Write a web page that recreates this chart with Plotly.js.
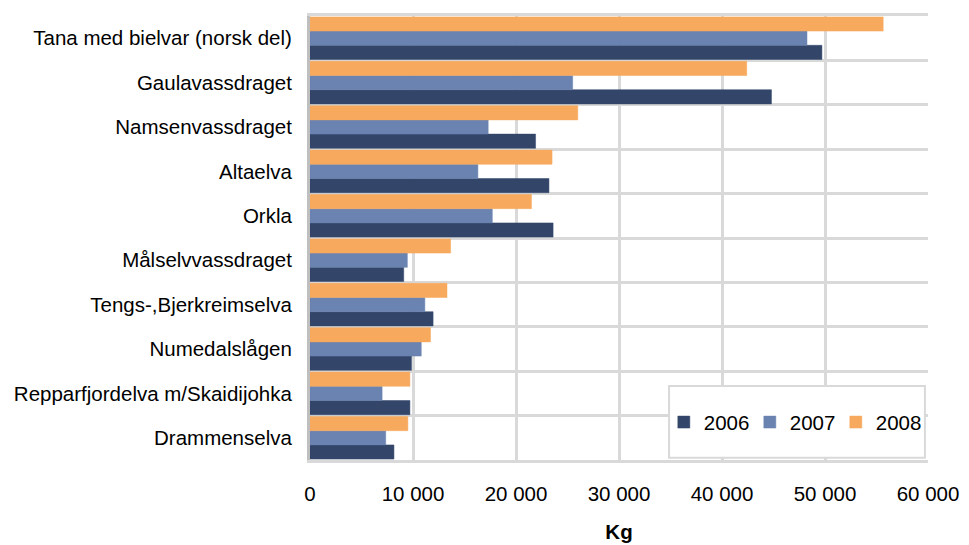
<!DOCTYPE html>
<html>
<head>
<meta charset="utf-8">
<script src="https://cdn.plot.ly/plotly-3.0.1.min.js"></script>
<style>html,body{margin:0;padding:0;background:#fff;}#chart{width:969px;height:545px;}</style>
</head>
<body>
<div id="chart"></div>
<script>
// Categories, listed top to bottom as in the chart
const categories = [
  "Tana med bielvar (norsk del)",
  "Gaulavassdraget",
  "Namsenvassdraget",
  "Altaelva",
  "Orkla",
  "Målselvvassdraget",
  "Tengs-,Bjerkreimselva",
  "Numedalslågen",
  "Repparfjordelva m/Skaidijohka",
  "Drammenselva"
];
const seriesNames = ["2006", "2007", "2008"];
const values2006 = [49700, 44800, 21900, 23200, 23600, 9100, 11950, 9850, 9700, 8150];
const values2007 = [48250, 25500, 17300, 16300, 17700, 9450, 11150, 10800, 7000, 7350];
const values2008 = [55650, 42400, 26000, 23500, 21500, 13650, 13300, 11700, 9700, 9500];
const xTickValues = [0, 10000, 20000, 30000, 40000, 50000, 60000];
const xTitle = "Kg";

const colors = ["#33466a", "#6a83b1", "#f7a95e"];
const allValues = [values2006, values2007, values2008];

const traces = allValues.map((vals, i) => ({
  type: "bar",
  orientation: "h",
  name: seriesNames[i],
  y: categories,
  x: vals,
  marker: { color: colors[i], line: { color: colors[i], width: 0.5 } },
  hoverinfo: "x+name"
}));

const gridColor = "#d9d9d9";
const font = { family: "Liberation Sans, Arial, sans-serif", size: 20.5, color: "#000" };

const layout = {
  width: 969,
  height: 545,
  margin: { l: 310, r: 41, t: 16, b: 85 },
  paper_bgcolor: "#fff",
  plot_bgcolor: "#fff",
  font: font,
  separators: ", ",
  barmode: "group",
  bargap: 0.04,
  bargroupgap: 0,
  showlegend: true,
  legend: {
    orientation: "h",
    x: 0.990, xanchor: "right",
    y: 0.085, yanchor: "middle",
    bgcolor: "rgba(0,0,0,0)",
    borderwidth: 0,
    font: font,
    entrywidth: 41,
    entrywidthmode: "pixels",
    traceorder: "normal"
  },
  xaxis: {
    range: [0, 60000],
    tickvals: xTickValues,
    tickformat: ",d",
    showgrid: true,
    gridcolor: gridColor,
    gridwidth: 3,
    zeroline: false,
    showline: true,
    mirror: true,
    linecolor: gridColor,
    linewidth: 3,
    ticks: "",
    ticklabelstandoff: 13,
    tickfont: font,
    title: { text: xTitle, font: { family: font.family, size: 20.5, color: "#000", weight: "bold" }, standoff: 22 },
    fixedrange: true
  },
  yaxis: {
    type: "category",
    categoryorder: "array",
    categoryarray: categories.slice().reverse(),
    tickson: "boundaries",
    showgrid: true,
    gridcolor: gridColor,
    gridwidth: 3,
    zeroline: false,
    showline: true,
    linecolor: "#bfbfbf",
    linewidth: 3,
    ticks: "",
    ticklabelstandoff: 11,
    tickfont: font,
    fixedrange: true
  },
  shapes: [{
    type: "rect", xref: "paper", yref: "paper",
    x0: 0.581, x1: 0.995, y0: 0.005, y1: 0.1667,
    fillcolor: "#fff",
    line: { color: gridColor, width: 2 },
    layer: "above"
  }]
};

Plotly.newPlot("chart", traces, layout, { displayModeBar: false, staticPlot: true });
</script>
</body>
</html>
